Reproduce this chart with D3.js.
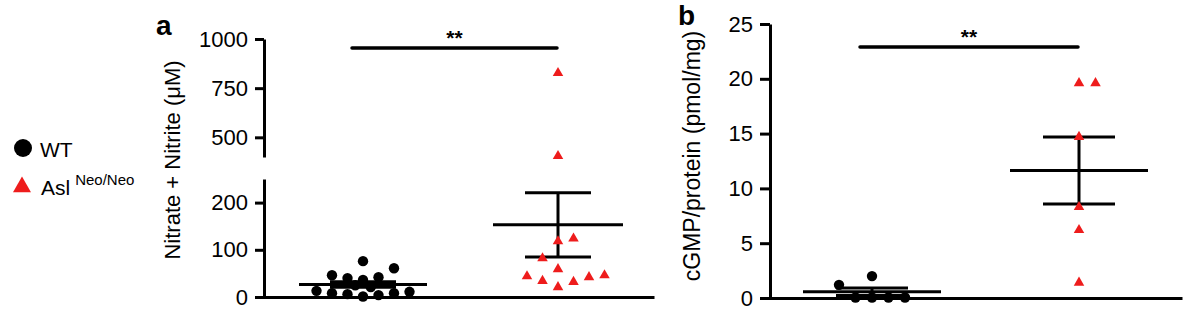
<!DOCTYPE html>
<html><head><meta charset="utf-8">
<script src="https://cdn.jsdelivr.net/npm/d3@7"></script>
<style>body{margin:0;background:#fff} svg{display:block} text{font-family:"Liberation Sans",Arial,Helvetica,sans-serif;fill:#000}</style>
</head><body><svg id="c" width="1200" height="335"></svg>
<script>
// ---- data ----
const groups = ["WT", "Asl"];
const nitrateWT = [76, 46, 61, 40, 36, 42, 25, 21, 13, 8, 6, 1, 4, 8, 11];
const nitrateWTSlot = [0, -2, 2, -1, 0, 1, -0.5, 0.5, -3, -2, -1, 0, 1, 2, 3];
const nitrateAsl = [827, 405, 118, 124, 82, 59, 44, 34, 21, 32, 42, 46];
const nitrateAslSlot = [0, 0, 0, 1, -1, 0, -2, -1, 0, 1, 2, 3];
const cgmpWT = [1.2, 2.0, 0.05, 0.05, 0.05, 0.05];
const cgmpWTSlot = [-2, 0, -1, 0, 1, 2];
const cgmpAsl = [19.6, 19.6, 14.7, 8.3, 6.2, 1.4];
const cgmpAslSlot = [0, 1, 0, 0, 0, 0];
const nitrateLowTicks = [0, 100, 200];
const nitrateHighTicks = [500, 750, 1000];
const cgmpTicks = [0, 5, 10, 15, 20, 25];
const sigLabel = "**";

const RED = "#ee1c1c";
const svg = d3.select("#c");
const fmt = d3.format("d");

function stats(v) {
  const m = d3.mean(v), sd = d3.deviation(v);
  return { mean: m, sem: sd / Math.sqrt(v.length) };
}

function styleAxis(g, fs) {
  g.selectAll("path.domain").attr("stroke", "#000").attr("stroke-width", 3);
  g.selectAll(".tick line").attr("stroke", "#000").attr("stroke-width", 3);
  g.selectAll(".tick text").attr("font-size", fs).attr("font-family", '"Liberation Sans",Arial,sans-serif').attr("fill", "#000");
}

function drawGroup(g, x, yf, grp, vals, slots, slotW, meanHW, capHW, shape) {
  const s = stats(vals);
  const cx = x(grp);
  const lines = g.append("g").attr("stroke", "#000").attr("stroke-width", 3);
  lines.append("line").attr("x1", cx - meanHW).attr("x2", cx + meanHW).attr("y1", yf(s.mean)).attr("y2", yf(s.mean));
  lines.append("line").attr("x1", cx - capHW).attr("x2", cx + capHW).attr("y1", yf(s.mean + s.sem)).attr("y2", yf(s.mean + s.sem));
  lines.append("line").attr("x1", cx - capHW).attr("x2", cx + capHW).attr("y1", yf(s.mean - s.sem)).attr("y2", yf(s.mean - s.sem));
  lines.append("line").attr("x1", cx).attr("x2", cx).attr("y1", yf(s.mean + s.sem)).attr("y2", yf(s.mean - s.sem));
  const pts = vals.map((v, i) => ({ v, slot: slots[i] }));
  if (shape === "circle") {
    g.selectAll(null).data(pts).enter().append("circle")
      .attr("cx", d => cx + d.slot * slotW).attr("cy", d => yf(d.v)).attr("r", 5.2).attr("fill", "#000");
  } else {
    const tri = d3.symbol().type(d3.symbolTriangle).size(48);
    g.selectAll(null).data(pts).enter().append("path")
      .attr("d", tri).attr("fill", RED)
      .attr("transform", d => `translate(${cx + d.slot * slotW},${yf(d.v)})`);
  }
}

function sigBar(g, x1, x2, y) {
  g.append("line").attr("x1", x1).attr("x2", x2).attr("y1", y).attr("y2", y)
    .attr("stroke", "#000").attr("stroke-width", 3.5).attr("stroke-linecap", "round");
  g.append("text").attr("x", (x1 + x2) / 2).attr("y", y - 3).attr("text-anchor", "middle")
    .attr("font-size", 21).attr("font-weight", "bold").text(sigLabel);
}

// ---- panel a ----
const ga = svg.append("g");
const xA = d3.scalePoint().domain(groups).range([363, 558]);
const yLow = d3.scaleLinear().domain([0, 250]).range([297, 179]);
const yHigh = d3.scaleLinear().domain([400, 1000]).range([157, 39]);
const yA = v => (v >= 400 ? yHigh(v) : yLow(v));

const axLow = ga.append("g").attr("transform", "translate(264,0)")
  .call(d3.axisLeft(yLow).tickValues(nitrateLowTicks).tickFormat(fmt).tickSize(9).tickSizeOuter(0).tickPadding(7));
styleAxis(axLow, 22);
const axHigh = ga.append("g").attr("transform", "translate(264,0)")
  .call(d3.axisLeft(yHigh).tickValues(nitrateHighTicks).tickFormat(fmt).tickSize(9).tickSizeOuter(0).tickPadding(7));
styleAxis(axHigh, 22);
const xAxA = ga.append("g").attr("transform", "translate(0,297)")
  .call(d3.axisBottom(d3.scaleBand().domain(groups).range([263, 654])).tickSize(0).tickFormat(""));
styleAxis(xAxA, 22);

drawGroup(ga, xA, yA, "WT", nitrateWT, nitrateWTSlot, 15.5, 64, 33, "circle");
drawGroup(ga, xA, yA, "Asl", nitrateAsl, nitrateAslSlot, 15.5, 65, 33, "triangle");
sigBar(ga, xA("WT") - 11, xA("Asl") - 1, 48);

ga.append("text").attr("transform", "translate(180,160) rotate(-90)").attr("text-anchor", "middle")
  .attr("font-size", 22).text("Nitrate + Nitrite (\u03BCM)");
ga.append("text").attr("x", 156).attr("y", 35).attr("font-size", 28).attr("font-weight", "bold").text("a");

// ---- panel b ----
const gb = svg.append("g");
const xB = d3.scalePoint().domain(groups).range([872, 1079]);
const yB = d3.scaleLinear().domain([0, 25]).range([298, 24]);
const axB = gb.append("g").attr("transform", "translate(770,0)")
  .call(d3.axisLeft(yB).tickValues(cgmpTicks).tickFormat(fmt).tickSize(10).tickSizeOuter(0).tickPadding(7));
styleAxis(axB, 22);
const xAxB = gb.append("g").attr("transform", "translate(0,298)")
  .call(d3.axisBottom(d3.scaleBand().domain(groups).range([769, 1182])).tickSize(0).tickFormat(""));
styleAxis(xAxB, 22);

drawGroup(gb, xB, yB, "WT", cgmpWT, cgmpWTSlot, 16.5, 69, 36, "circle");
drawGroup(gb, xB, yB, "Asl", cgmpAsl, cgmpAslSlot, 16.5, 69, 36, "triangle");
sigBar(gb, xB("WT") - 12, xB("Asl") - 1, 47);

gb.append("text").attr("transform", "translate(700,156) rotate(-90)").attr("text-anchor", "middle")
  .attr("font-size", 23).text("cGMP/protein (pmol/mg)");
gb.append("text").attr("x", 678).attr("y", 25).attr("font-size", 28).attr("font-weight", "bold").text("b");

// ---- legend ----
const lg = svg.append("g");
lg.append("circle").attr("cx", 23).attr("cy", 148).attr("r", 9).attr("fill", "#000");
lg.append("text").attr("x", 40).attr("y", 157).attr("font-size", 21).text("WT");
lg.append("path").attr("d", d3.symbol().type(d3.symbolTriangle).size(140)).attr("fill", RED)
  .attr("transform", "translate(22,187)");
const t2 = lg.append("text").attr("x", 41).attr("y", 195).attr("font-size", 21);
t2.append("tspan").text("Asl");
t2.append("tspan").attr("dx", 5).attr("dy", -10).attr("font-size", 15).text("Neo/Neo");
</script></body></html>
